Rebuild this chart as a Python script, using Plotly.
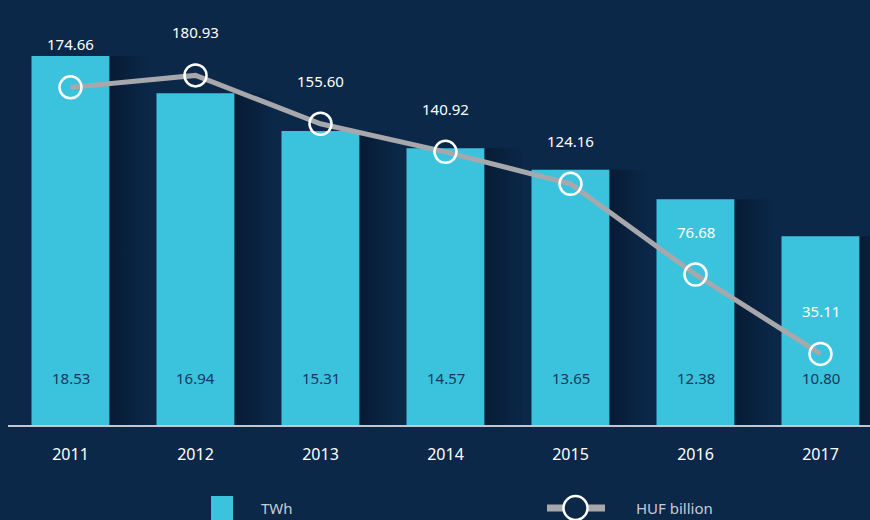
import plotly.graph_objects as go

# data
years = ["2011", "2012", "2013", "2014", "2015", "2016", "2017"]
twh = [18.53, 16.94, 15.31, 14.57, 13.65, 12.38, 10.80]
huf_billion = [174.66, 180.93, 155.60, 140.92, 124.16, 76.68, 35.11]

BG = "#0b2849"
CYAN = "#3bc3de"
GREY = "#a6a8ab"
LEGEND_TXT = "#c8ccd5"
FONT = "Noto Sans"

xs = list(range(len(years)))
bar_w = 0.624

# plot area in pixels: x 8..870, y 0..425
PLOT_L, PLOT_W, PLOT_H = 8, 862, 425


def px_x(p):
    return (p - PLOT_L) / PLOT_W


def px_y(p):
    return (PLOT_H - p) / PLOT_H


fig = go.Figure()

# soft shadow on the right of each bar
for i, v in zip(xs, twh):
    x0 = i + bar_w / 2
    x1 = x0 + 0.32
    fig.add_trace(go.Scatter(
        x=[x0, x1, x1, x0, x0], y=[0, 0, v, v, 0],
        mode="lines", line=dict(width=0), fill="toself",
        fillgradient=dict(type="horizontal",
                          colorscale=[[0, "rgba(4,16,34,0.55)"], [1, "rgba(4,16,34,0)"]]),
        showlegend=False, hoverinfo="skip", yaxis="y",
    ))

fig.add_trace(go.Bar(
    x=xs, y=twh, name="TWh", width=bar_w,
    marker=dict(color=CYAN, line=dict(width=0)),
    yaxis="y", showlegend=False,
))

fig.add_trace(go.Scatter(
    x=xs, y=huf_billion, name="HUF billion", mode="lines+markers",
    line=dict(color=GREY, width=5),
    marker=dict(symbol="circle-open", size=22, color="white", line=dict(width=2.5)),
    yaxis="y2", showlegend=False,
))

annotations = []
for i, v in zip(xs, huf_billion):
    annotations.append(dict(
        x=i, y=v, xref="x", yref="y2", text=f"{v:.2f}", showarrow=False,
        yshift=43, font=dict(family=FONT, size=15, color="white"),
    ))
for i, v in zip(xs, twh):
    annotations.append(dict(
        x=i, y=0, xref="x", yref="paper", yanchor="middle", text=f"{v:.2f}",
        showarrow=False, yshift=47, font=dict(family=FONT, size=15, color="#17375b"),
    ))

# legend drawn by hand, sitting at the very bottom edge
annotations += [
    dict(x=px_x(259), y=px_y(508), xref="paper", yref="paper", xanchor="left",
         yanchor="middle", text="TWh", showarrow=False,
         font=dict(family=FONT, size=15, color=LEGEND_TXT)),
    dict(x=px_x(634), y=px_y(508), xref="paper", yref="paper", xanchor="left",
         yanchor="middle", text="HUF billion", showarrow=False,
         font=dict(family=FONT, size=15, color=LEGEND_TXT)),
]
shapes = [
    dict(type="rect", xref="paper", yref="paper",
         x0=px_x(211), x1=px_x(233), y0=px_y(496), y1=px_y(530),
         fillcolor=CYAN, line=dict(width=0)),
    dict(type="line", xref="paper", yref="paper",
         x0=px_x(547), x1=px_x(605), y0=px_y(508), y1=px_y(508),
         line=dict(color=GREY, width=7)),
    dict(type="circle", xref="paper", yref="paper",
         x0=px_x(563.5), x1=px_x(587.5), y0=px_y(496), y1=px_y(520),
         fillcolor=BG, line=dict(color="white", width=2.5)),
]

fig.update_layout(
    width=870, height=520,
    paper_bgcolor=BG, plot_bgcolor=BG,
    margin=dict(l=8, r=0, t=0, b=95, autoexpand=False),
    font=dict(family=FONT, size=15, color="white"),
    showlegend=False,
    xaxis=dict(
        range=[-0.5, 6.396], tickvals=xs, ticktext=years,
        showgrid=False, zeroline=False,
        showline=True, linecolor="#c3c7cc", linewidth=2, layer="below traces",
        ticks="outside", ticklen=14, tickcolor="rgba(0,0,0,0)",
        tickfont=dict(family=FONT, size=16, color="white"),
    ),
    yaxis=dict(range=[2.69, 20.94], visible=False, showgrid=False),
    yaxis2=dict(range=[-2.1, 220.4], overlaying="y", side="right",
                visible=False, showgrid=False),
    annotations=annotations,
    shapes=shapes,
)

fig.write_html(
    "out.html",
    config={"displayModeBar": False},
    post_script="document.body.style.margin='0';document.body.style.overflow='hidden';",
)
